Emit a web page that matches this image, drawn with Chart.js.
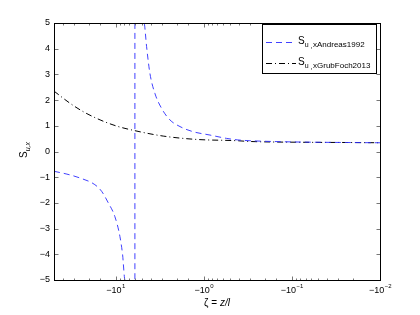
<!DOCTYPE html>
<html>
<head>
<meta charset="utf-8">
<script src="https://cdn.jsdelivr.net/npm/chart.js@4.4.1/dist/chart.umd.min.js"></script>
<style>
  html, body { margin: 0; padding: 0; background: #fff; }
  #wrap { width: 420px; height: 315px; }
</style>
</head>
<body>
<div id="wrap"><canvas id="myChart" width="420" height="315"></canvas></div>
<script>
// zeta = z/l (negativ), S_u,x
const andreasZeta = [-50, -35.7, -25.4, -17.2, -14.4, -12.1, -10.2, -8.93, -8.33, -7.84, -7.0, -6.05,
                     -6.03, -5.0, -4.73, -4.45, -4.08, -3.58, -3.01, -2.42, -1.86, -1.32, -0.85, -0.55,
                     -0.41, -0.30, -0.125, -0.052, -0.024, -0.01];
const andreasS = [-0.77, -0.88, -1.03, -1.29, -1.55, -2.0, -2.53, -3.31, -4.02, -5.0, -8.0, -200,
                  200, 7.5, 5.0, 4.08, 3.04, 2.26, 1.68, 1.23, 0.97, 0.77, 0.64, 0.51,
                  0.45, 0.42, 0.38, 0.36, 0.35, 0.34];

const grubZeta = [-50, -33, -23.3, -15, -9.75, -6.04, -2.88, -1.21, -0.42, -0.30, -0.081, -0.024, -0.01];
const grubS = [2.35, 1.88, 1.55, 1.23, 0.99, 0.81, 0.60, 0.47, 0.42, 0.39, 0.36, 0.35, 0.34];

const seriesNames = ['Andreas1992', 'GrubFoch2013'];
const xTickExponents = [1, 0, -1, -2];

const FONT = '"Liberation Sans", Arial, Helvetica, sans-serif';

function toPoints(zeta, vals) {
    return zeta.map((z, i) => ({ x: -z, y: vals[i] }));
}

function minus(n) {
    return n < 0 ? '\u2212' + (-n) : String(n);
}

// Achsenrahmen, Ticks, Beschriftungen und Legende im MATLAB-Stil
const matlabAxes = {
    id: 'matlabAxes',
    afterDraw(chart) {
        const ctx = chart.ctx;
        const a = chart.chartArea;
        const xs = chart.scales.x;
        const ys = chart.scales.y;
        const L = Math.floor(a.left) + 0.5, R = Math.floor(a.right) + 0.5;
        const T = Math.floor(a.top) + 0.5, B = Math.floor(a.bottom) + 0.5;

        ctx.save();
        ctx.setLineDash([]);
        ctx.lineWidth = 1;

        // Ticks nach innen
        ctx.strokeStyle = '#777';
        ctx.beginPath();
        ys.ticks.forEach(t => {
            const y = Math.round(ys.getPixelForValue(t.value)) + 0.5;
            ctx.moveTo(L, y); ctx.lineTo(L + 4, y);
            ctx.moveTo(R, y); ctx.lineTo(R - 4, y);
        });
        xs.ticks.forEach(t => {
            const lg = Math.log10(t.value);
            const major = Math.abs(lg - Math.round(lg)) < 1e-6;
            const len = major ? 4 : 2;
            const x = Math.round(xs.getPixelForValue(t.value)) + 0.5;
            ctx.moveTo(x, B); ctx.lineTo(x, B - len);
            ctx.moveTo(x, T); ctx.lineTo(x, T + len);
        });
        ctx.stroke();

        ctx.strokeStyle = '#000';
        ctx.strokeRect(L, T, R - L, B - T);

        // x-Tickbeschriftungen: -10^n
        ctx.fillStyle = '#000';
        ctx.textBaseline = 'alphabetic';
        ctx.textAlign = 'left';
        xTickExponents.forEach(e => {
            const x = xs.getPixelForValue(Math.pow(10, e));
            const base = '\u221210';
            const sup = minus(e);
            ctx.font = '9px ' + FONT;
            const w1 = ctx.measureText(base).width;
            ctx.font = '6px ' + FONT;
            const w2 = ctx.measureText(sup).width;
            const x0 = x - (w1 + w2) / 2;
            ctx.font = '9px ' + FONT;
            ctx.fillText(base, x0, 293);
            ctx.font = '6px ' + FONT;
            ctx.fillText(sup, x0 + w1 + 0.5, 288);
        });

        // x-Achsentitel
        ctx.font = '10px ' + FONT;
        const t1 = '\u03B6 = ';
        const w1 = ctx.measureText(t1).width;
        ctx.font = 'italic 10px ' + FONT;
        const t2 = 'z/l';
        const w2 = ctx.measureText(t2).width;
        const cx = (a.left + a.right) / 2;
        ctx.font = '10px ' + FONT;
        ctx.fillText(t1, cx - (w1 + w2) / 2, 306);
        ctx.font = 'italic 10px ' + FONT;
        ctx.fillText(t2, cx - (w1 + w2) / 2 + w1, 306);

        // y-Achsentitel: S_{u,x}
        ctx.save();
        ctx.translate(27, 150);
        ctx.rotate(-Math.PI / 2);
        ctx.font = '10px ' + FONT;
        const ws = ctx.measureText('S').width;
        ctx.font = 'italic 7px ' + FONT;
        const wsub = ctx.measureText('u,x').width;
        ctx.font = '10px ' + FONT;
        ctx.fillText('S', -(ws + wsub) / 2, 0);
        ctx.font = 'italic 7px ' + FONT;
        ctx.fillText('u,x', -(ws + wsub) / 2 + ws, 3);
        ctx.restore();

        // Legende
        ctx.fillStyle = '#fff';
        ctx.fillRect(262.5, 24.5, 114, 49);
        ctx.strokeStyle = '#000';
        ctx.strokeRect(262.5, 24.5, 114, 49);
        chart.data.datasets.forEach((ds, i) => {
            const y = i === 0 ? 42.5 : 63.5;
            ctx.strokeStyle = ds.borderColor;
            ctx.lineWidth = ds.borderWidth;
            ctx.setLineDash(ds.borderDash);
            ctx.beginPath();
            ctx.moveTo(266, y); ctx.lineTo(296, y);
            ctx.stroke();
            ctx.setLineDash([]);
            ctx.fillStyle = '#000';
            ctx.font = '10px ' + FONT;
            ctx.fillText('S', 298, y + 1);
            const sx = 298 + ctx.measureText('S').width;
            ctx.font = '7px ' + FONT;
            ctx.fillText('u', sx, y + 4);
            const ux = sx + ctx.measureText('u ').width;
            ctx.fillText(',', ux, y + 5);
            ctx.font = '8px ' + FONT;
            ctx.fillText('x' + seriesNames[i], ux + 2.5, y + 4);
        });

        ctx.restore();
    }
};

const ctx = document.getElementById('myChart').getContext('2d');
const chartInstance = new Chart(ctx, {
    type: 'line',
    data: {
        datasets: [
            {
                label: seriesNames[0],
                data: toPoints(andreasZeta, andreasS),
                borderColor: '#2b2bff',
                borderWidth: 0.9,
                borderDash: [6, 4],
                pointRadius: 0,
                cubicInterpolationMode: 'monotone',
                fill: false
            },
            {
                label: seriesNames[1],
                data: toPoints(grubZeta, grubS),
                borderColor: '#000000',
                borderWidth: 1,
                borderDash: [6, 3, 1, 3],
                pointRadius: 0,
                cubicInterpolationMode: 'monotone',
                fill: false
            }
        ]
    },
    options: {
        responsive: false,
        animation: false,
        layout: { padding: { top: 23, right: 40, left: 0, bottom: 0 } },
        plugins: {
            legend: { display: false },
            tooltip: { enabled: false }
        },
        scales: {
            x: {
                type: 'logarithmic',
                min: 0.01,
                max: 50,
                reverse: true,
                grid: { display: false, drawTicks: false },
                border: { display: false },
                ticks: { display: false },
                afterFit: s => { s.height = 35; }
            },
            y: {
                min: -5,
                max: 5,
                grid: { display: false, drawTicks: false },
                border: { display: false },
                ticks: {
                    stepSize: 1,
                    padding: 4,
                    color: '#000',
                    font: { family: FONT, size: 9 },
                    callback: v => minus(v)
                },
                afterFit: s => { s.width = 54; }
            }
        }
    },
    plugins: [matlabAxes]
});
</script>
</body>
</html>
